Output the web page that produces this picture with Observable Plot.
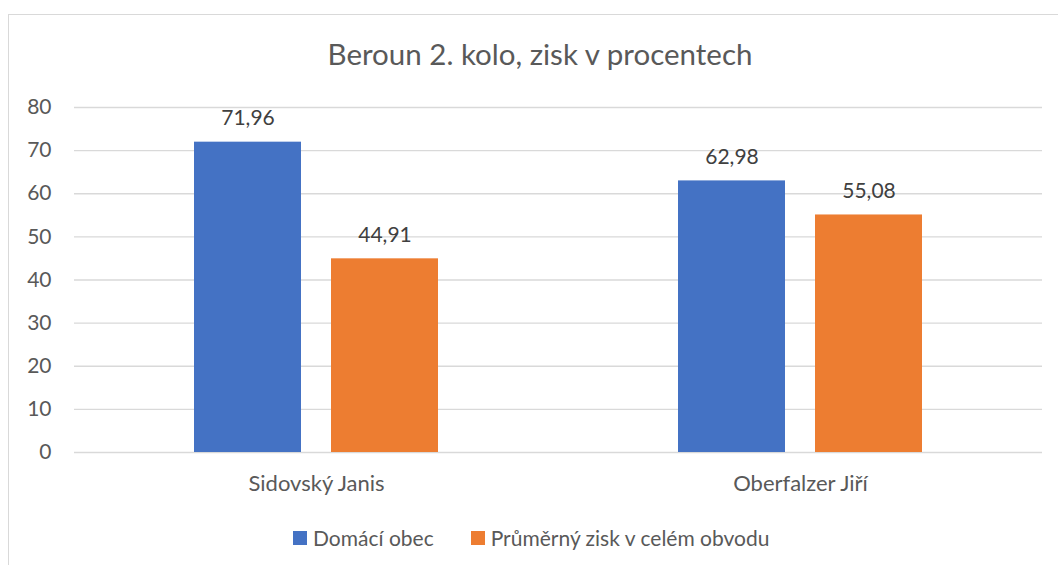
<!DOCTYPE html>
<html>
<head>
<meta charset="utf-8">
<script src="https://cdn.jsdelivr.net/npm/d3@7"></script>
<script src="https://cdn.jsdelivr.net/npm/@observablehq/plot@0.6"></script>
<style>
  html, body { margin: 0; padding: 0; background: #fff; overflow: hidden; width: 1058px; height: 565px; }
  #frame { position: absolute; left: 8px; top: 14px; width: 1200px; height: 700px;
           border-left: 1.5px solid #d9d9d9; border-top: 1.5px solid #d9d9d9; }
  #title { position: absolute; left: 0; top: 39px; width: 1080px; text-align: center;
           font-family: Lato, sans-serif; font-size: 29.5px; line-height: 30px; color: #595959; }
  #chart { position: absolute; left: 0; top: 80px; }
  #legend { position: absolute; left: 293px; top: 527px; display: flex; align-items: center;
            font-family: Lato, sans-serif; font-size: 21px; line-height: 22px; color: #595959; }
  .item { display: flex; align-items: center; margin-right: 37px; }
  .sw { width: 14px; height: 14px; margin-right: 6px; }
</style>
</head>
<body>
<div id="frame"></div>
<div id="title">Beroun 2. kolo, zisk v procentech</div>
<div id="chart"></div>
<div id="legend"></div>
<script>
const categories = ["Sidovský Janis", "Oberfalzer Jiří"];
const seriesNames = ["Domácí obec", "Průměrný zisk v celém obvodu"];
const domaciObec = [71.96, 62.98];
const prumernyZisk = [44.91, 55.08];
const seriesColors = ["#4472C4", "#ED7D31"];
const yTicks = [0, 10, 20, 30, 40, 50, 60, 70, 80];

const data = categories.flatMap((c, i) => [
  {cat: c, series: seriesNames[0], value: domaciObec[i]},
  {cat: c, series: seriesNames[1], value: prumernyZisk[i]}
]);
const fmt = v => v.toFixed(2).replace(".", ",");

const hasAxisFx = typeof Plot.axisFx === "function";

const marks = [
  Plot.gridY(yTicks, {stroke: "#d9d9d9", strokeOpacity: 1, strokeWidth: 1.3}),
  Plot.barY(data, {fx: "cat", x: "series", y: "value", fill: "series"}),
  Plot.text(data, {fx: "cat", x: "series", y: "value", text: d => fmt(d.value),
                   lineAnchor: "bottom", dy: -17, fill: "#404040", fontSize: 21})
];
if (hasAxisFx) {
  marks.push(Plot.axisFx({anchor: "bottom", label: null, tickSize: 0, tickPadding: 23, fontSize: 22}));
}

const chart = Plot.plot({
  width: 1058,
  height: 430,
  marginLeft: 73,
  marginRight: 16,
  marginTop: 27,
  marginBottom: 58,
  style: {fontFamily: "Lato, sans-serif", fontSize: "21px", color: "#595959", background: "transparent"},
  fx: hasAxisFx
    ? {domain: categories, padding: 0, label: null, axis: null}
    : {domain: categories, padding: 0, label: null, axis: "bottom", tickSize: 0, tickPadding: 23.5},
  x: {domain: seriesNames, paddingInner: 0.2174, paddingOuter: 0.864, axis: null},
  y: {domain: [0, 80], ticks: yTicks, label: null, tickSize: 0, tickPadding: 23},
  color: {domain: seriesNames, range: seriesColors},
  marks
});
document.getElementById("chart").appendChild(chart);

const legend = document.getElementById("legend");
seriesNames.forEach((s, i) => {
  const item = document.createElement("div");
  item.className = "item";
  const sw = document.createElement("div");
  sw.className = "sw";
  sw.style.background = seriesColors[i];
  const label = document.createElement("span");
  label.textContent = s;
  item.appendChild(sw);
  item.appendChild(label);
  legend.appendChild(item);
});
</script>
</body>
</html>
